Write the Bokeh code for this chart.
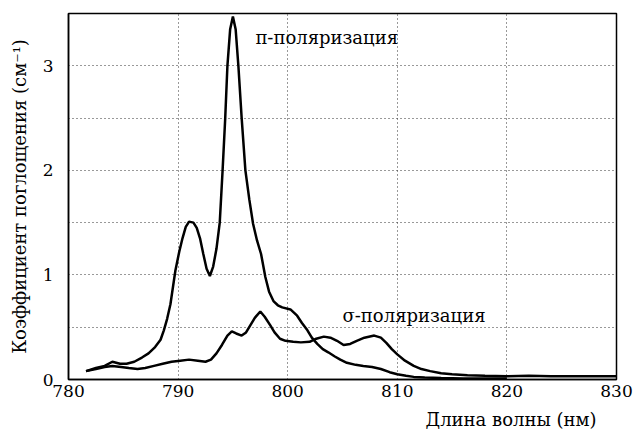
from bokeh.plotting import figure
from bokeh.models import FixedTicker, Label, Range1d, Title
from bokeh.embed import file_html
from bokeh.resources import INLINE

# π-polarization spectrum (wavelength nm, absorption cm^-1)
pi_wl = [781.6, 782.5, 783.3, 784.0, 784.7, 785.3, 786.0, 786.7, 787.3, 787.9,
         788.4, 788.7, 789.0, 789.3, 789.75, 790.1, 790.4, 790.7, 791.0, 791.4,
         791.7, 792.0, 792.3, 792.6, 792.9, 793.2, 793.5, 793.8, 794.06, 794.3,
         794.5, 794.75, 795.0, 795.25, 795.5, 795.8, 796.14, 796.5, 796.84, 797.2,
         797.57, 797.96, 798.3, 798.7, 799.1, 799.5, 800.25, 800.86, 801.3, 801.8,
         802.2, 802.7, 803.2, 803.7, 804.3, 804.8, 805.4, 806.2, 806.9, 807.7,
         808.5, 809.3, 810.0, 810.8, 811.5, 812.5, 814.0, 816.0, 818.0, 820.0]
pi_abs = [0.08, 0.11, 0.13, 0.17, 0.15, 0.15, 0.17, 0.21, 0.25, 0.31,
          0.38, 0.47, 0.58, 0.72, 1.04, 1.22, 1.35, 1.46, 1.51, 1.50,
          1.45, 1.35, 1.20, 1.06, 0.99, 1.08, 1.25, 1.50, 2.00, 2.50,
          3.00, 3.35, 3.47, 3.35, 3.00, 2.50, 2.00, 1.72, 1.49, 1.33,
          1.20, 0.98, 0.84, 0.75, 0.71, 0.69, 0.67, 0.61, 0.54, 0.47,
          0.40, 0.34, 0.29, 0.26, 0.22, 0.19, 0.16, 0.14, 0.13, 0.12,
          0.10, 0.07, 0.05, 0.035, 0.025, 0.02, 0.015, 0.01, 0.01, 0.01]

# σ-polarization spectrum
sigma_wl = [781.6, 782.5, 783.3, 784.0, 784.8, 785.5, 786.3, 787.0, 787.8, 788.6,
            789.4, 790.2, 791.0, 791.8, 792.5, 793.0, 793.5, 794.0, 794.5, 794.9,
            795.3, 795.8, 796.2, 796.6, 797.0, 797.5, 797.9, 798.4, 798.8, 799.3,
            799.8, 800.5, 801.2, 802.0, 802.6, 803.3, 803.9, 804.5, 805.1, 805.7,
            806.3, 807.0, 807.9, 808.5, 809.0, 809.5, 810.0, 810.7, 811.5, 812.2,
            813.0, 814.0, 815.0, 816.4, 818.0, 820.0, 822.0, 824.0, 826.0, 828.0, 830.0]
sigma_abs = [0.08, 0.10, 0.12, 0.13, 0.12, 0.11, 0.10, 0.11, 0.13, 0.15,
             0.17, 0.18, 0.19, 0.18, 0.17, 0.19, 0.25, 0.33, 0.42, 0.46,
             0.44, 0.42, 0.45, 0.52, 0.59, 0.65, 0.60, 0.52, 0.45, 0.39,
             0.37, 0.36, 0.355, 0.36, 0.39, 0.41, 0.40, 0.37, 0.33, 0.34,
             0.37, 0.40, 0.42, 0.40, 0.35, 0.29, 0.24, 0.18, 0.13, 0.10,
             0.08, 0.06, 0.05, 0.04, 0.035, 0.03, 0.035, 0.03, 0.03, 0.03, 0.03]

x_ticks = [780, 790, 800, 810, 820, 830]
y_ticks = [0, 1, 2, 3]
x_grid = [790, 800, 810, 820]
y_grid = [0.5, 1, 1.5, 2, 2.5, 3]

FONT = "DejaVu Serif"

p = figure(width=633, height=437, output_backend="svg", toolbar_location=None,
           x_range=Range1d(780, 830), y_range=Range1d(0, 3.5),
           min_border_left=68, min_border_right=17, min_border_top=13,
           min_border_bottom=40)
p.background_fill_color = "white"
p.border_fill_color = "white"
p.outline_line_color = "black"
p.outline_line_width = 1.5

p.line(pi_wl, pi_abs, line_color="black", line_width=2.5)
p.line(sigma_wl, sigma_abs, line_color="black", line_width=2.5)

for ax in (p.xaxis[0], p.yaxis[0]):
    ax.major_tick_in = 0
    ax.major_tick_out = 0
    ax.minor_tick_in = 0
    ax.minor_tick_out = 0
    ax.axis_line_color = "black"
    ax.axis_line_width = 1.5
    ax.major_label_text_font = FONT
    ax.major_label_text_font_size = "17px"
    ax.major_label_text_color = "black"

p.xaxis.ticker = FixedTicker(ticks=x_ticks)
p.yaxis.ticker = FixedTicker(ticks=y_ticks)
p.xaxis.major_label_standoff = 5
p.yaxis.major_label_standoff = 15

p.yaxis.axis_label = "Коэффициент поглощения (см⁻¹)"
p.yaxis.axis_label_text_font = FONT
p.yaxis.axis_label_text_font_size = "18px"
p.yaxis.axis_label_text_font_style = "normal"
p.yaxis.axis_label_text_color = "black"
p.yaxis.axis_label_standoff = 10

p.add_layout(Title(text="Длина волны (нм)", align="right", offset=20,
                   text_font=FONT, text_font_size="18px",
                   text_font_style="normal", text_color="black",
                   standoff=15), "below")

p.xgrid.ticker = FixedTicker(ticks=x_grid)
p.ygrid.ticker = FixedTicker(ticks=y_grid)
for g in (p.xgrid[0], p.ygrid[0]):
    g.grid_line_color = "#333333"
    g.grid_line_width = 1
    g.grid_line_dash = "1 3"

p.add_layout(Label(x=797.06, y=3.27, text="π-поляризация", text_font=FONT,
                   text_font_size="18px", text_baseline="alphabetic",
                   text_color="black"))
p.add_layout(Label(x=805.0, y=0.61, text="σ-поляризация", text_font=FONT,
                   text_font_size="18px", text_baseline="alphabetic",
                   text_color="black"))

open("out.html", "w").write(file_html(p, INLINE))
